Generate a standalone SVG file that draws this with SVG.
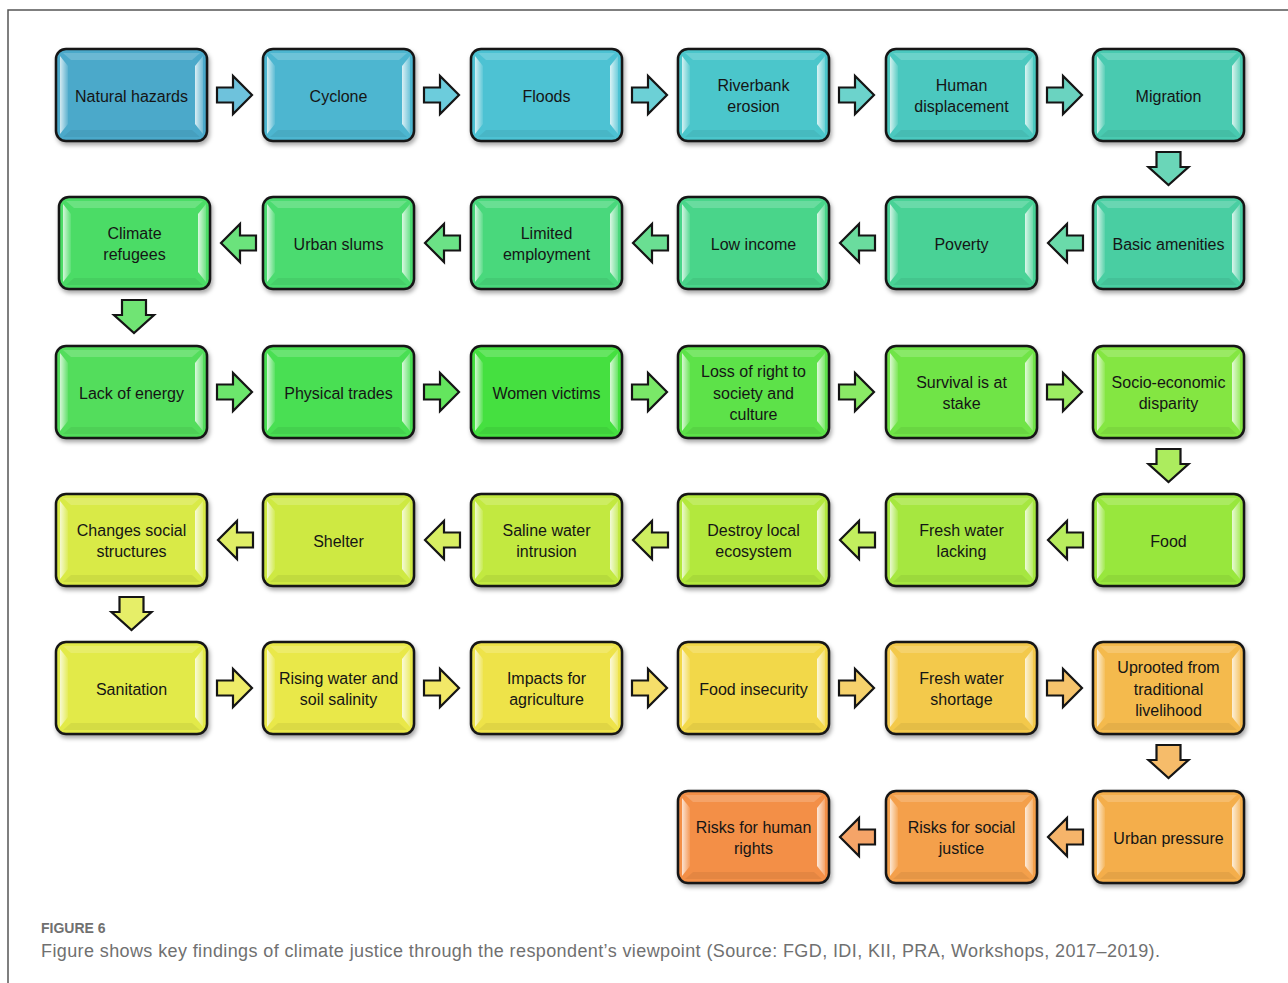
<svg xmlns="http://www.w3.org/2000/svg" xmlns:xlink="http://www.w3.org/1999/xlink" width="1288" height="983" viewBox="0 0 1288 983">
<style>
.box{stroke:#151515;stroke-width:2.5;filter:url(#sh)}
.lbl{font-family:"Liberation Sans",Arial,sans-serif;font-size:16px;fill:#151515;text-anchor:middle}
.arr{stroke:#151515;stroke-width:2.2;stroke-linejoin:miter}
.cap{font-family:"Liberation Sans",Arial,sans-serif;fill:#707070}
</style>
<defs>
<filter id="sh" x="-10%" y="-10%" width="125%" height="130%">
<feDropShadow dx="1.5" dy="3" stdDeviation="2" flood-color="#000" flood-opacity="0.35"/>
</filter>
<linearGradient id="lg" x1="0" y1="0" x2="1" y2="0">
<stop offset="0" stop-color="#fff" stop-opacity="0.75"/>
<stop offset="1" stop-color="#fff" stop-opacity="0.1"/>
</linearGradient>
<linearGradient id="rg" x1="1" y1="0" x2="0" y2="0">
<stop offset="0" stop-color="#fff" stop-opacity="0.2"/>
<stop offset="1" stop-color="#fff" stop-opacity="0.8"/>
</linearGradient>
<g id="gl">
<path d="M4,7 L12,17 V75 L4,85 Z" fill="url(#lg)"/>
<path d="M147,7 L139,17 V75 L147,85 Z" fill="url(#rg)"/>
<path d="M7,4 H144 L136,11 H15 Z" fill="#fff" fill-opacity="0.18"/>
<path d="M15,81 H136 L144,88 H7 Z" fill="#000" fill-opacity="0.06"/>
</g>
<path id="ar" class="arr" d="M0,-7.5 H16 V-19 L35,0 L16,19 V7.5 H0 Z"/>
<path id="ad" class="arr" d="M-12,0 V15 H-20 L0,33 L20,15 H12 V0 Z"/>
</defs>
<rect x="0" y="0" width="1288" height="983" fill="#fff"/>
<path d="M8,983 V10 H1288" fill="none" stroke="#555" stroke-width="1.5"/>

<g id="connectors">
<use href="#ar" transform="translate(217,95)" fill="#6EC2DC"/>
<use href="#ar" transform="translate(424,95)" fill="#6CCCDC"/>
<use href="#ar" transform="translate(632,95)" fill="#6CD0D6"/>
<use href="#ar" transform="translate(839,95)" fill="#6CD3CC"/>
<use href="#ar" transform="translate(1047,95)" fill="#6AD3C0"/>
<use href="#ad" transform="translate(1168.5,152)" fill="#6AD6B8"/>
<use href="#ar" transform="translate(1083,243) scale(-1,1)" fill="#6ADAAA"/>
<use href="#ar" transform="translate(875,243) scale(-1,1)" fill="#6ADC9E"/>
<use href="#ar" transform="translate(668,243) scale(-1,1)" fill="#6ADF92"/>
<use href="#ar" transform="translate(460,243) scale(-1,1)" fill="#6BE286"/>
<use href="#ar" transform="translate(256,243) scale(-1,1)" fill="#6BE37C"/>
<use href="#ad" transform="translate(134,300)" fill="#70E474"/>
<use href="#ar" transform="translate(217,392)" fill="#6CE66C"/>
<use href="#ar" transform="translate(424,392)" fill="#64E65E"/>
<use href="#ar" transform="translate(632,392)" fill="#7AE868"/>
<use href="#ar" transform="translate(839,392)" fill="#8AEA66"/>
<use href="#ar" transform="translate(1047,392)" fill="#9CEC62"/>
<use href="#ad" transform="translate(1168.5,449)" fill="#ACEC5E"/>
<use href="#ar" transform="translate(1083,540) scale(-1,1)" fill="#B8EC5E"/>
<use href="#ar" transform="translate(875,540) scale(-1,1)" fill="#C2EE5E"/>
<use href="#ar" transform="translate(668,540) scale(-1,1)" fill="#CEEE60"/>
<use href="#ar" transform="translate(460,540) scale(-1,1)" fill="#D8EE62"/>
<use href="#ar" transform="translate(253,540) scale(-1,1)" fill="#E0EE66"/>
<use href="#ad" transform="translate(131.5,597)" fill="#E6EE68"/>
<use href="#ar" transform="translate(217,688)" fill="#EEEC68"/>
<use href="#ar" transform="translate(424,688)" fill="#F2E868"/>
<use href="#ar" transform="translate(632,688)" fill="#F5DE6A"/>
<use href="#ar" transform="translate(839,688)" fill="#F6D26C"/>
<use href="#ar" transform="translate(1047,688)" fill="#F6C46C"/>
<use href="#ad" transform="translate(1168.5,745)" fill="#F6BC6A"/>
<use href="#ar" transform="translate(1083,837) scale(-1,1)" fill="#F6B46A"/>
<use href="#ar" transform="translate(875,837) scale(-1,1)" fill="#F5A468"/>
</g>

<g id="n1"><rect class="box" x="56" y="49" width="151" height="92" rx="10" fill="#4BA9CA"/><use href="#gl" x="56" y="49"/><text class="lbl" x="131.5" y="101.5">Natural hazards</text></g>
<g id="n2"><rect class="box" x="263" y="49" width="151" height="92" rx="10" fill="#4DB6D0"/><use href="#gl" x="263" y="49"/><text class="lbl" x="338.5" y="101.5">Cyclone</text></g>
<g id="n3"><rect class="box" x="471" y="49" width="151" height="92" rx="10" fill="#4DC2D3"/><use href="#gl" x="471" y="49"/><text class="lbl" x="546.5" y="101.5">Floods</text></g>
<g id="n4"><rect class="box" x="678" y="49" width="151" height="92" rx="10" fill="#4CC6CB"/><use href="#gl" x="678" y="49"/><text class="lbl"><tspan x="753.5" y="90.75">Riverbank</tspan><tspan x="753.5" y="112.25">erosion</tspan></text></g>
<g id="n5"><rect class="box" x="886" y="49" width="151" height="92" rx="10" fill="#4BC8BF"/><use href="#gl" x="886" y="49"/><text class="lbl"><tspan x="961.5" y="90.75">Human</tspan><tspan x="961.5" y="112.25">displacement</tspan></text></g>
<g id="n6"><rect class="box" x="1093" y="49" width="151" height="92" rx="10" fill="#48CAB0"/><use href="#gl" x="1093" y="49"/><text class="lbl" x="1168.5" y="101.5">Migration</text></g>

<g id="n7"><rect class="box" x="1093" y="197" width="151" height="92" rx="10" fill="#48CEA2"/><use href="#gl" x="1093" y="197"/><text class="lbl" x="1168.5" y="249.5">Basic amenities</text></g>
<g id="n8"><rect class="box" x="886" y="197" width="151" height="92" rx="10" fill="#49D296"/><use href="#gl" x="886" y="197"/><text class="lbl" x="961.5" y="249.5">Poverty</text></g>
<g id="n9"><rect class="box" x="678" y="197" width="151" height="92" rx="10" fill="#4AD58A"/><use href="#gl" x="678" y="197"/><text class="lbl" x="753.5" y="249.5">Low income</text></g>
<g id="n10"><rect class="box" x="471" y="197" width="151" height="92" rx="10" fill="#4AD87C"/><use href="#gl" x="471" y="197"/><text class="lbl"><tspan x="546.5" y="238.75">Limited</tspan><tspan x="546.5" y="260.25">employment</tspan></text></g>
<g id="n11"><rect class="box" x="263" y="197" width="151" height="92" rx="10" fill="#4BDB70"/><use href="#gl" x="263" y="197"/><text class="lbl" x="338.5" y="249.5">Urban slums</text></g>
<g id="n12"><rect class="box" x="59" y="197" width="151" height="92" rx="10" fill="#4BDC66"/><use href="#gl" x="59" y="197"/><text class="lbl"><tspan x="134.5" y="238.75">Climate</tspan><tspan x="134.5" y="260.25">refugees</tspan></text></g>

<g id="n13"><rect class="box" x="56" y="346" width="151" height="92" rx="10" fill="#52DD5C"/><use href="#gl" x="56" y="346"/><text class="lbl" x="131.5" y="398.5">Lack of energy</text></g>
<g id="n14"><rect class="box" x="263" y="346" width="151" height="92" rx="10" fill="#4ADF52"/><use href="#gl" x="263" y="346"/><text class="lbl" x="338.5" y="398.5">Physical trades</text></g>
<g id="n15"><rect class="box" x="471" y="346" width="151" height="92" rx="10" fill="#44E040"/><use href="#gl" x="471" y="346"/><text class="lbl" x="546.5" y="398.5">Women victims</text></g>
<g id="n16"><rect class="box" x="678" y="346" width="151" height="92" rx="10" fill="#5DE24A"/><use href="#gl" x="678" y="346"/><text class="lbl"><tspan x="753.5" y="377">Loss of right to</tspan><tspan x="753.5" y="398.5">society and</tspan><tspan x="753.5" y="420">culture</tspan></text></g>
<g id="n17"><rect class="box" x="886" y="346" width="151" height="92" rx="10" fill="#70E447"/><use href="#gl" x="886" y="346"/><text class="lbl"><tspan x="961.5" y="387.75">Survival is at</tspan><tspan x="961.5" y="409.25">stake</tspan></text></g>
<g id="n18"><rect class="box" x="1093" y="346" width="151" height="92" rx="10" fill="#84E642"/><use href="#gl" x="1093" y="346"/><text class="lbl"><tspan x="1168.5" y="387.75">Socio-economic</tspan><tspan x="1168.5" y="409.25">disparity</tspan></text></g>

<g id="n19"><rect class="box" x="1093" y="494" width="151" height="92" rx="10" fill="#98E73E"/><use href="#gl" x="1093" y="494"/><text class="lbl" x="1168.5" y="546.5">Food</text></g>
<g id="n20"><rect class="box" x="886" y="494" width="151" height="92" rx="10" fill="#A6E73F"/><use href="#gl" x="886" y="494"/><text class="lbl"><tspan x="961.5" y="535.75">Fresh water</tspan><tspan x="961.5" y="557.25">lacking</tspan></text></g>
<g id="n21"><rect class="box" x="678" y="494" width="151" height="92" rx="10" fill="#B3E83E"/><use href="#gl" x="678" y="494"/><text class="lbl"><tspan x="753.5" y="535.75">Destroy local</tspan><tspan x="753.5" y="557.25">ecosystem</tspan></text></g>
<g id="n22"><rect class="box" x="471" y="494" width="151" height="92" rx="10" fill="#C2E940"/><use href="#gl" x="471" y="494"/><text class="lbl"><tspan x="546.5" y="535.75">Saline water</tspan><tspan x="546.5" y="557.25">intrusion</tspan></text></g>
<g id="n23"><rect class="box" x="263" y="494" width="151" height="92" rx="10" fill="#CEE943"/><use href="#gl" x="263" y="494"/><text class="lbl" x="338.5" y="546.5">Shelter</text></g>
<g id="n24"><rect class="box" x="56" y="494" width="151" height="92" rx="10" fill="#D9EA47"/><use href="#gl" x="56" y="494"/><text class="lbl"><tspan x="131.5" y="535.75">Changes social</tspan><tspan x="131.5" y="557.25">structures</tspan></text></g>

<g id="n25"><rect class="box" x="56" y="642" width="151" height="92" rx="10" fill="#E2EA48"/><use href="#gl" x="56" y="642"/><text class="lbl" x="131.5" y="694.5">Sanitation</text></g>
<g id="n26"><rect class="box" x="263" y="642" width="151" height="92" rx="10" fill="#E9E849"/><use href="#gl" x="263" y="642"/><text class="lbl"><tspan x="338.5" y="683.75">Rising water and</tspan><tspan x="338.5" y="705.25">soil salinity</tspan></text></g>
<g id="n27"><rect class="box" x="471" y="642" width="151" height="92" rx="10" fill="#EEE34A"/><use href="#gl" x="471" y="642"/><text class="lbl"><tspan x="546.5" y="683.75">Impacts for</tspan><tspan x="546.5" y="705.25">agriculture</tspan></text></g>
<g id="n28"><rect class="box" x="678" y="642" width="151" height="92" rx="10" fill="#F2D84A"/><use href="#gl" x="678" y="642"/><text class="lbl" x="753.5" y="694.5">Food insecurity</text></g>
<g id="n29"><rect class="box" x="886" y="642" width="151" height="92" rx="10" fill="#F3C94C"/><use href="#gl" x="886" y="642"/><text class="lbl"><tspan x="961.5" y="683.75">Fresh water</tspan><tspan x="961.5" y="705.25">shortage</tspan></text></g>
<g id="n30"><rect class="box" x="1093" y="642" width="151" height="92" rx="10" fill="#F4BA4D"/><use href="#gl" x="1093" y="642"/><text class="lbl"><tspan x="1168.5" y="673">Uprooted from</tspan><tspan x="1168.5" y="694.5">traditional</tspan><tspan x="1168.5" y="716">livelihood</tspan></text></g>

<g id="n31"><rect class="box" x="1093" y="791" width="151" height="92" rx="10" fill="#F4AE4C"/><use href="#gl" x="1093" y="791"/><text class="lbl" x="1168.5" y="843.5">Urban pressure</text></g>
<g id="n32"><rect class="box" x="886" y="791" width="151" height="92" rx="10" fill="#F4A04B"/><use href="#gl" x="886" y="791"/><text class="lbl"><tspan x="961.5" y="832.75">Risks for social</tspan><tspan x="961.5" y="854.25">justice</tspan></text></g>
<g id="n33"><rect class="box" x="678" y="791" width="151" height="92" rx="10" fill="#F38F47"/><use href="#gl" x="678" y="791"/><text class="lbl"><tspan x="753.5" y="832.75">Risks for human</tspan><tspan x="753.5" y="854.25">rights</tspan></text></g>

<g id="caption">
<text class="cap" x="41" y="933" font-size="14" font-weight="bold">FIGURE 6</text>
<text class="cap" x="41" y="957" font-size="18" textLength="1119" lengthAdjust="spacing">Figure shows key findings of climate justice through the respondent’s viewpoint (Source: FGD, IDI, KII, PRA, Workshops, 2017–2019).</text>
</g>
</svg>
